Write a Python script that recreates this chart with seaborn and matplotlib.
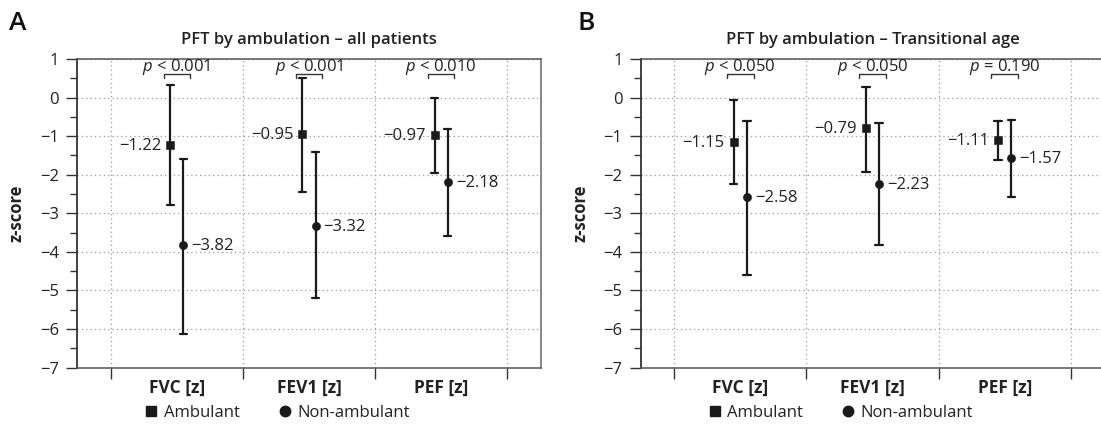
import numpy as np
import pandas as pd
import seaborn as sns
import matplotlib
matplotlib.use("Agg")
import matplotlib.pyplot as plt
from matplotlib.lines import Line2D
from matplotlib.ticker import MultipleLocator, FixedLocator, NullFormatter

# ---------------- data ----------------
categories = ["FVC [z]", "FEV1 [z]", "PEF [z]"]
groups = ["Ambulant", "Non-ambulant"]

# Panel A: all patients
a_amb_mean = [-1.22, -0.95, -0.97]
a_amb_low = [-2.79, -2.46, -1.96]
a_amb_high = [0.33, 0.51, 0.00]
a_non_mean = [-3.82, -3.32, -2.18]
a_non_low = [-6.13, -5.21, -3.58]
a_non_high = [-1.59, -1.42, -0.81]
a_p = ["< 0.001", "< 0.001", "< 0.010"]

# Panel B: transitional age
b_amb_mean = [-1.15, -0.79, -1.11]
b_amb_low = [-2.25, -1.94, -1.62]
b_amb_high = [-0.06, 0.28, -0.61]
b_non_mean = [-2.58, -2.23, -1.57]
b_non_low = [-4.59, -3.82, -2.57]
b_non_high = [-0.61, -0.66, -0.58]
b_p = ["< 0.050", "< 0.050", "= 0.190"]

titles = ["PFT by ambulation – all patients", "PFT by ambulation – Transitional age"]
panel_letters = ["A", "B"]
ylabel = "z-score"

# ---------------- style ----------------
sns.set_theme(style="white")
plt.rcParams["font.family"] = ["Open Sans", "DejaVu Sans"]
plt.rcParams["mathtext.fontset"] = "custom"
plt.rcParams["mathtext.it"] = "Open Sans:italic"
plt.rcParams["mathtext.rm"] = "Open Sans"
TXT = "#222222"
INK = "#1a1a1a"
FS = 12


def long_frame(amb_mean, amb_low, amb_high, non_mean, non_low, non_high):
    rows = []
    for i, c in enumerate(categories):
        for g, m, lo, hi in ((groups[0], amb_mean, amb_low, amb_high),
                             (groups[1], non_mean, non_low, non_high)):
            for v in (lo[i], m[i], hi[i]):
                rows.append({"cat": c, "group": g, "z": v})
    return pd.DataFrame(rows)


panels = [
    (long_frame(a_amb_mean, a_amb_low, a_amb_high, a_non_mean, a_non_low, a_non_high),
     a_amb_mean, a_non_mean, a_p),
    (long_frame(b_amb_mean, b_amb_low, b_amb_high, b_non_mean, b_non_low, b_non_high),
     b_amb_mean, b_non_mean, b_p),
]

W, H = 1101, 425
fig = plt.figure(figsize=(W / 100, H / 100), dpi=100)
axes_px = [(77, 59, 464, 308.5), (640.5, 59, 464, 308.5)]
letter_px = [(9, 30), (577, 30)]

dodge = 0.1
for k, ((df, amb_mean, non_mean, pvals), (x0, y0, w, h)) in enumerate(zip(panels, axes_px)):
    ax = fig.add_axes([x0 / W, 1 - (y0 + h) / H, w / W, h / H])
    sns.pointplot(data=df, x="cat", y="z", hue="group", order=categories,
                  hue_order=groups, estimator="median", errorbar=("pi", 100),
                  palette=[INK, INK], markers=["s", "o"], linestyle="none",
                  dodge=dodge, capsize=0.055, markersize=5.9, markeredgewidth=0.4,
                  err_kws={"linewidth": 1.6, "color": INK}, legend=False, ax=ax)

    ax.set_xlim(-0.755, 2.755)
    ax.set_ylim(-7, 1)
    ax.yaxis.set_major_locator(MultipleLocator(1))
    ax.yaxis.set_minor_locator(MultipleLocator(0.5))
    ax.xaxis.set_major_locator(FixedLocator([-0.5, 0.5, 1.5, 2.5]))
    ax.xaxis.set_major_formatter(NullFormatter())
    ax.xaxis.set_minor_locator(FixedLocator([0, 1, 2]))
    ax.set_xticklabels(categories, minor=True, fontweight="bold", fontsize=12.5, color=TXT)
    ax.tick_params(axis="x", which="major", direction="out", length=8, width=1.0,
                   color="#333333", bottom=True)
    ax.tick_params(axis="x", which="minor", length=0, pad=8, bottom=True)
    ax.tick_params(axis="y", which="major", direction="out", length=8, width=1.0,
                   color="#333333", labelsize=FS, labelcolor=TXT, pad=5, left=True)
    ax.tick_params(axis="y", which="minor", direction="out", length=5, width=1.0,
                   color="#333333", left=True)
    ax.grid(True, which="major", axis="both", color="#9a9a9a", linestyle=(0, (1, 2.5)),
            linewidth=0.9)
    for side, col, lw in (("left", "#333333", 1.3), ("bottom", "#555555", 1.1),
                          ("top", "#555555", 1.1), ("right", "#666666", 1.1)):
        ax.spines[side].set_visible(True)
        ax.spines[side].set_color(col)
        ax.spines[side].set_linewidth(lw)
    ax.set_xlabel("")
    ax.set_ylabel(ylabel, fontweight="bold", fontsize=12, color=TXT, labelpad=10)
    ax.set_title(titles[k], fontsize=12, fontweight="semibold", color=TXT, pad=11)

    # value labels
    for i in range(len(categories)):
        ax.annotate(f"{amb_mean[i]:.2f}".replace("-", "\u2212"),
                    xy=(i - dodge / 2, amb_mean[i]), xytext=(-9, -1),
                    textcoords="offset pixels", ha="right", va="center",
                    fontsize=FS, color=TXT)
        ax.annotate(f"{non_mean[i]:.2f}".replace("-", "\u2212"),
                    xy=(i + dodge / 2, non_mean[i]), xytext=(8, -1),
                    textcoords="offset pixels", ha="left", va="center",
                    fontsize=FS, color=TXT)
        # p-value bracket
        ax.plot([i - 0.1, i - 0.1, i + 0.1, i + 0.1], [0.52, 0.6, 0.6, 0.52],
                color="#333333", linewidth=1.0, clip_on=False)
        ax.text(i, 0.79, r"$p$ " + pvals[i], ha="center", va="center",
                fontsize=FS, color=TXT)

    handles = [Line2D([], [], marker="s", color=INK, linestyle="none", markersize=6.5),
               Line2D([], [], marker="o", color=INK, linestyle="none", markersize=7.5)]
    ax.legend(handles, groups, loc="center", bbox_to_anchor=(0.431, -0.148), ncol=2,
              frameon=False, fontsize=FS, handlelength=0.8, handletextpad=0.35,
              columnspacing=2.3, labelcolor=TXT, borderaxespad=0)

    lx, ly = letter_px[k]
    fig.text(lx / W, 1 - ly / H, panel_letters[k], fontsize=19, fontweight="semibold",
             color="#111111", ha="left", va="baseline")

fig.savefig("out.png", dpi=100, facecolor="white")
